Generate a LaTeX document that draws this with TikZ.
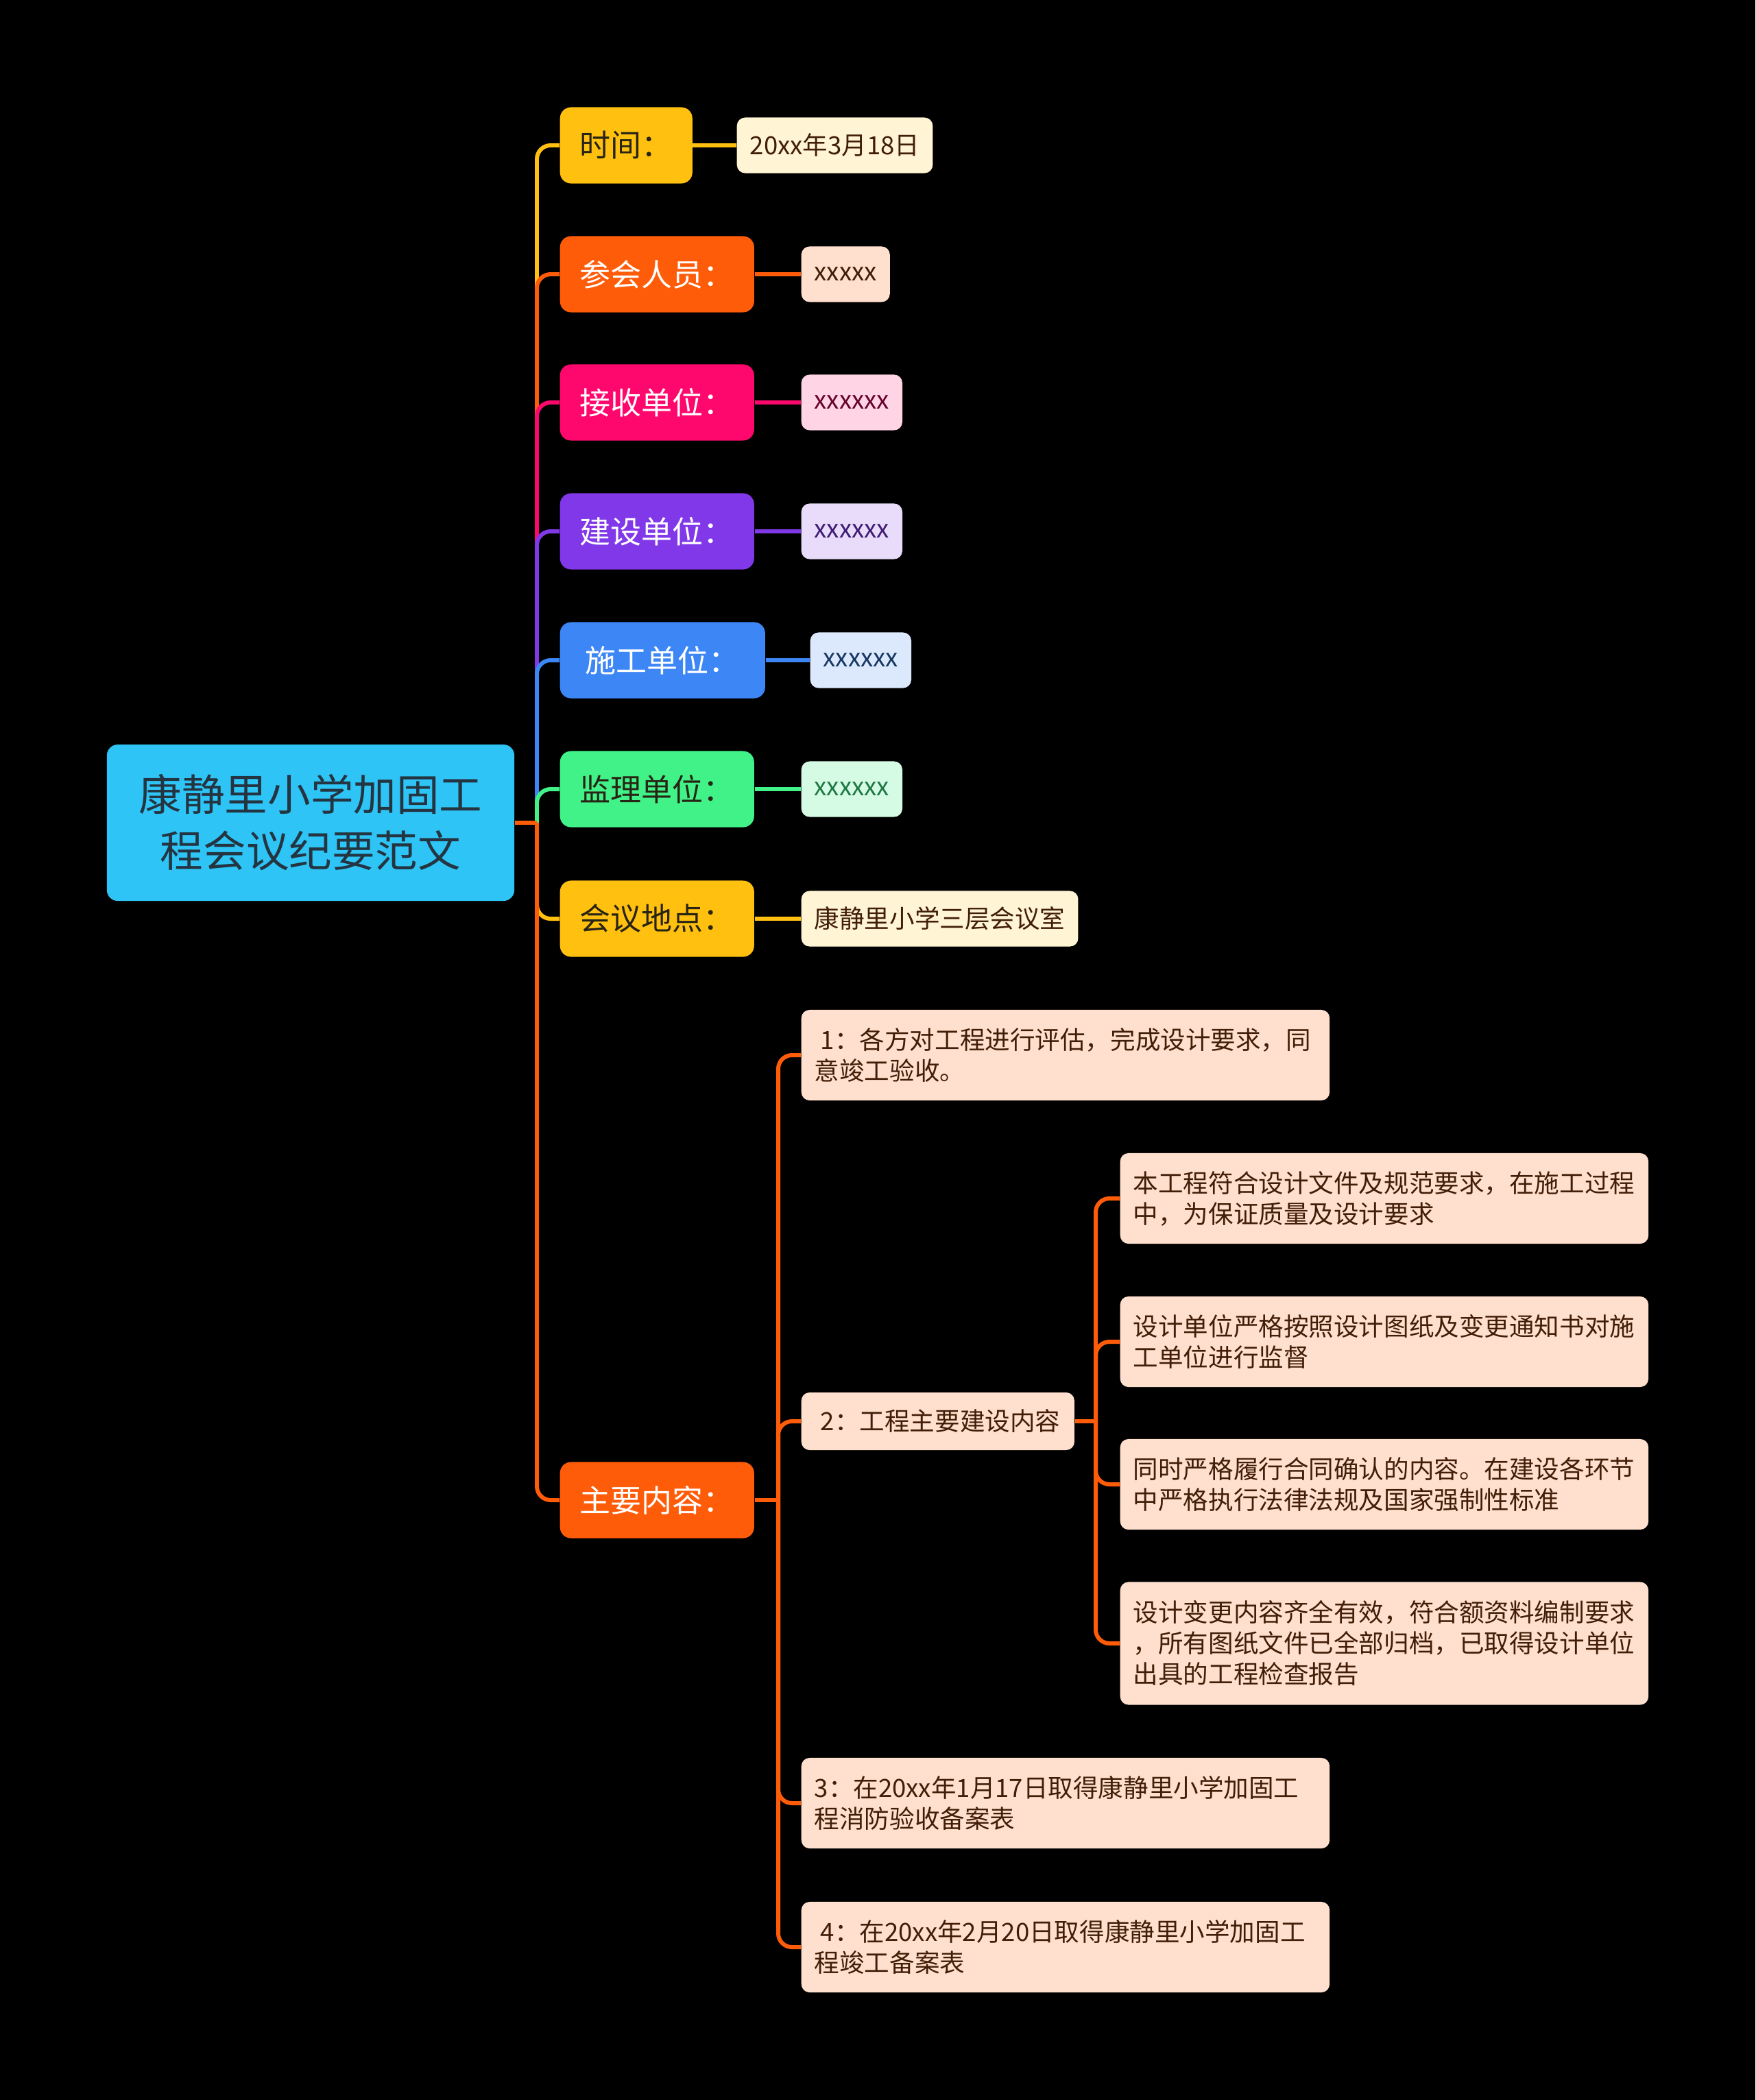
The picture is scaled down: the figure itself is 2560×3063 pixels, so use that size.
\documentclass[tikz,border=0pt]{standalone}
\usepackage{fontspec}
\setmainfont{Noto Sans CJK SC}
\usepackage{xcolor}

\definecolor{rootblue}{RGB}{46,196,246}
\definecolor{amber}{RGB}{255,192,16}
\definecolor{tangerine}{RGB}{255,92,10}
\definecolor{rosered}{RGB}{255,8,110}
\definecolor{violet}{RGB}{128,56,232}
\definecolor{skyblue}{RGB}{60,134,245}
\definecolor{mint}{RGB}{64,242,136}
\definecolor{cream}{RGB}{255,245,212}
\definecolor{peach}{RGB}{255,224,206}
\definecolor{blush}{RGB}{255,212,228}
\definecolor{lavender}{RGB}{232,220,250}
\definecolor{iceblue}{RGB}{220,233,253}
\definecolor{palegreen}{RGB}{214,251,229}
\definecolor{inkdark}{RGB}{40,36,20}
\definecolor{inkbrown}{RGB}{66,30,8}
\definecolor{inkroot}{RGB}{36,52,64}

\begin{document}
\begin{tikzpicture}[x=0.01cm, y=-0.01cm,
  rootbox/.style={fill=rootblue, text=inkroot, rounded corners=0.16cm,
    minimum width=5.94cm, minimum height=2.28cm, align=center,
    font=\fontsize{17.8}{23.3}\selectfont},
  topic/.style={rounded corners=0.16cm, minimum height=1.11cm, inner xsep=0.29cm,
    anchor=west, font=\fontsize{12.8}{15}\selectfont},
  leaf/.style={rounded corners=0.12cm, minimum height=0.81cm, inner xsep=0.19cm,
    anchor=west, font=\fontsize{10.4}{12.8}\selectfont},
  note/.style={leaf, fill=peach, text=inkbrown, align=left, text width=7.32cm, minimum height=1.32cm},
  link/.style={line width=1.7pt, rounded corners=0.2cm}
]
\fill[black] (0,0) rectangle (2560,3063);

% Central topic
\node[rootbox] (root) at (453,1200) {康静里小学加固工\\程会议纪要范文};

% Main topics
\node[topic, fill=amber, text=inkdark] (time) at (816,212) {时间：};
\node[topic, fill=tangerine, text=white] (staff) at (816,400) {参会人员：};
\node[topic, fill=rosered, text=white] (recv) at (816,587) {接收单位：};
\node[topic, fill=violet, text=white] (build) at (816,775) {建设单位：};
\node[topic, fill=skyblue, text=white, minimum width=2.99cm] (cons) at (816,963) {施工单位：};
\node[topic, fill=mint, text=inkdark] (superv) at (816,1151) {监理单位：};
\node[topic, fill=amber, text=inkdark] (place) at (816,1340) {会议地点：};
\node[topic, fill=tangerine, text=white] (main) at (816,2188) {主要内容：};

% Values
\node[leaf, fill=cream, text=inkbrown] (timeval) at (1074,212) {20xx年3月18日};
\node[leaf, fill=peach, text=inkbrown] (staffval) at (1168,400) {xxxxx};
\node[leaf, fill=blush, text=rosered!40!black] (recvval) at (1168,587) {xxxxxx};
\node[leaf, fill=lavender, text=violet!50!black] (buildval) at (1168,775) {xxxxxx};
\node[leaf, fill=iceblue, text=skyblue!40!black] (consval) at (1181,963) {xxxxxx};
\node[leaf, fill=palegreen, text=mint!50!black] (supervval) at (1168,1151) {xxxxxx};
\node[leaf, fill=cream, text=inkbrown] (placeval) at (1168,1340) {康静里小学三层会议室};

% Main content items
\node[note] (p1) at (1168,1539) {\hspace*{0.25em}1：各方对工程进行评估，完成设计要求，同\\意竣工验收。};
\node[note, text width=3.6cm, minimum height=0.84cm] (p2) at (1168,2073) {\hspace*{0.25em}2：工程主要建设内容};
\node[note] (p3) at (1168,2630) {3：在20xx年1月17日取得康静里小学加固工\\程消防验收备案表};
\node[note] (p4) at (1168,2840) {\hspace*{0.25em}4：在20xx年2月20日取得康静里小学加固工\\程竣工备案表};

\node[note] (p2a) at (1633,1748) {本工程符合设计文件及规范要求，在施工过程\\中，为保证质量及设计要求};
\node[note] (p2b) at (1633,1957) {设计单位严格按照设计图纸及变更通知书对施\\工单位进行监督};
\node[note] (p2c) at (1633,2165) {同时严格履行合同确认的内容。在建设各环节\\中严格执行法律法规及国家强制性标准};
\node[note, minimum height=1.79cm] (p2d) at (1633,2397) {设计变更内容齐全有效，符合额资料编制要求\\，所有图纸文件已全部归档，已取得设计单位\\出具的工程检查报告};

% Connectors
\coordinate (hub) at (783,1200);
\draw[link, amber] (hub) |- (time.west);
\draw[link, tangerine] (hub) |- (staff.west);
\draw[link, rosered] (hub) |- (recv.west);
\draw[link, violet] (hub) |- (build.west);
\draw[link, skyblue] (hub) |- (cons.west);
\draw[link, mint] (hub) |- (superv.west);
\draw[link, amber] (hub) |- (place.west);
\draw[link, tangerine] (hub) |- (main.west);
\draw[link, tangerine] (root.east) -- (hub);

\draw[link, amber] (time.east) -- (timeval.west);
\draw[link, tangerine] (staff.east) -- (staffval.west);
\draw[link, rosered] (recv.east) -- (recvval.west);
\draw[link, violet] (build.east) -- (buildval.west);
\draw[link, skyblue] (cons.east) -- (consval.west);
\draw[link, mint] (superv.east) -- (supervval.west);
\draw[link, amber] (place.east) -- (placeval.west);

\coordinate (mainhub) at (1135,2188);
\draw[link, tangerine] (main.east) -- (mainhub);
\draw[link, tangerine] (mainhub) |- (p1.west);
\draw[link, tangerine] (mainhub) |- (p2.west);
\draw[link, tangerine] (mainhub) |- (p3.west);
\draw[link, tangerine] (mainhub) |- (p4.west);

\coordinate (p2hub) at (1598,2073);
\draw[link, tangerine] (p2.east) -- (p2hub);
\draw[link, tangerine] (p2hub) |- (p2a.west);
\draw[link, tangerine] (p2hub) |- (p2b.west);
\draw[link, tangerine] (p2hub) |- (p2c.west);
\draw[link, tangerine] (p2hub) |- (p2d.west);
\end{tikzpicture}
\end{document}
